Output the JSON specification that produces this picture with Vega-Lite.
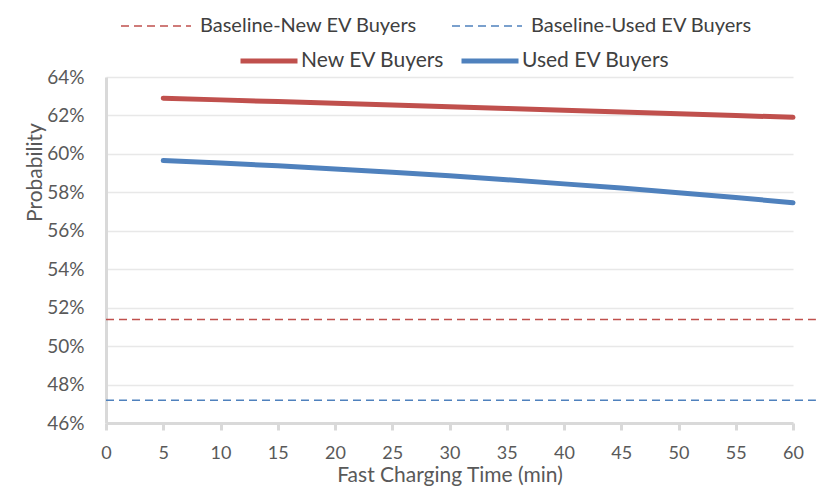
{
  "$schema": "https://vega.github.io/schema/vega-lite/v6.json",
  "width": 687,
  "height": 346,
  "autosize": "none",
  "padding": {"left": 106, "top": 77, "right": 23, "bottom": 69},
  "background": "white",
  "config": {
    "font": "Lato, Liberation Sans, sans-serif",
    "view": {"stroke": null},
    "axis": {
      "labelColor": "#595959",
      "titleColor": "#595959",
      "labelFontSize": 19,
      "titleFontSize": 19,
      "titleFontWeight": "normal",
      "domainColor": "#d9d9d9",
      "domainWidth": 3,
      "tickColor": "#d9d9d9",
      "tickWidth": 3,
      "gridColor": "#e8e8e8",
      "gridWidth": 1.5
    },
    "legend": {
      "labelColor": "#404040",
      "orient": "none",
      "direction": "horizontal",
      "title": null,
      "labelLimit": 400
    }
  },
  "datasets": {
    "lines": [
      {"series": "New EV Buyers", "time": 5, "prob": 0.629},
      {"series": "New EV Buyers", "time": 10, "prob": 0.6281},
      {"series": "New EV Buyers", "time": 15, "prob": 0.6272},
      {"series": "New EV Buyers", "time": 20, "prob": 0.6263},
      {"series": "New EV Buyers", "time": 25, "prob": 0.6254},
      {"series": "New EV Buyers", "time": 30, "prob": 0.6245},
      {"series": "New EV Buyers", "time": 35, "prob": 0.6236},
      {"series": "New EV Buyers", "time": 40, "prob": 0.6227},
      {"series": "New EV Buyers", "time": 45, "prob": 0.6218},
      {"series": "New EV Buyers", "time": 50, "prob": 0.6209},
      {"series": "New EV Buyers", "time": 55, "prob": 0.62},
      {"series": "New EV Buyers", "time": 60, "prob": 0.619},
      {"series": "Used EV Buyers", "time": 5, "prob": 0.5965},
      {"series": "Used EV Buyers", "time": 10, "prob": 0.5952},
      {"series": "Used EV Buyers", "time": 15, "prob": 0.5938},
      {"series": "Used EV Buyers", "time": 20, "prob": 0.5922},
      {"series": "Used EV Buyers", "time": 25, "prob": 0.5905},
      {"series": "Used EV Buyers", "time": 30, "prob": 0.5886},
      {"series": "Used EV Buyers", "time": 35, "prob": 0.5866},
      {"series": "Used EV Buyers", "time": 40, "prob": 0.5844},
      {"series": "Used EV Buyers", "time": 45, "prob": 0.5822},
      {"series": "Used EV Buyers", "time": 50, "prob": 0.5798},
      {"series": "Used EV Buyers", "time": 55, "prob": 0.5773},
      {"series": "Used EV Buyers", "time": 60, "prob": 0.5746}
    ],
    "baselines": [
      {"series": "Baseline-New EV Buyers", "time": 0, "end": 62, "prob": 0.5138},
      {"series": "Baseline-Used EV Buyers", "time": 0, "end": 62, "prob": 0.4718}
    ]
  },
  "encoding": {
    "x": {
      "field": "time",
      "type": "quantitative",
      "scale": {"domain": [0, 60], "nice": false},
      "axis": {
        "values": [0, 5, 10, 15, 20, 25, 30, 35, 40, 45, 50, 55, 60],
        "title": "Fast Charging Time (min)",
        "tickSize": 7,
        "labelPadding": 14,
        "labelFontSize": 18,
        "titleFontSize": 21,
        "labelFlush": false,
        "labelOverlap": false,
        "titlePadding": 2,
        "grid": false
      }
    },
    "y": {
      "field": "prob",
      "type": "quantitative",
      "scale": {"domain": [0.46, 0.64], "nice": false},
      "axis": {
        "values": [0.46, 0.48, 0.5, 0.52, 0.54, 0.56, 0.58, 0.6, 0.62, 0.64],
        "format": ".0%",
        "ticks": false,
        "labelOverlap": false,
        "labelFlush": false,
        "labelPadding": 22,
        "title": "Probability",
        "titleFontSize": 21,
        "titleX": -71,
        "titleY": 95,
        "titleAngle": -90,
        "titleAlign": "center",
        "titleBaseline": "middle"
      }
    }
  },
  "layer": [
    {
      "data": {"name": "baselines"},
      "mark": {"type": "rule", "strokeDash": [8, 5], "strokeWidth": 1.5, "clip": false},
      "encoding": {
        "x2": {"field": "end"},
        "color": {
          "field": "series",
          "type": "nominal",
          "scale": {"domain": ["Baseline-New EV Buyers", "Baseline-Used EV Buyers"], "range": ["#C0504D", "#4F81BD"]},
          "legend": {
            "legendX": 14,
            "legendY": -87,
            "symbolType": "stroke",
            "symbolSize": 4900,
            "symbolStrokeWidth": 1.5,
            "symbolDash": [8, 5],
            "labelFontSize": 20,
            "labelOffset": 8,
            "columnPadding": 31
          }
        }
      }
    },
    {
      "data": {"name": "lines"},
      "mark": {"type": "line", "strokeWidth": 5, "strokeCap": "round"},
      "encoding": {
        "color": {
          "field": "series",
          "type": "nominal",
          "scale": {"domain": ["New EV Buyers", "Used EV Buyers"], "range": ["#C0504D", "#4F81BD"]},
          "legend": {
            "legendX": 132,
            "legendY": -47,
            "symbolType": "stroke",
            "symbolSize": 3249,
            "symbolStrokeWidth": 5,
            "labelFontSize": 21,
            "labelOffset": 1,
            "columnPadding": 6
          }
        }
      }
    }
  ],
  "resolve": {"scale": {"color": "independent"}}
}
